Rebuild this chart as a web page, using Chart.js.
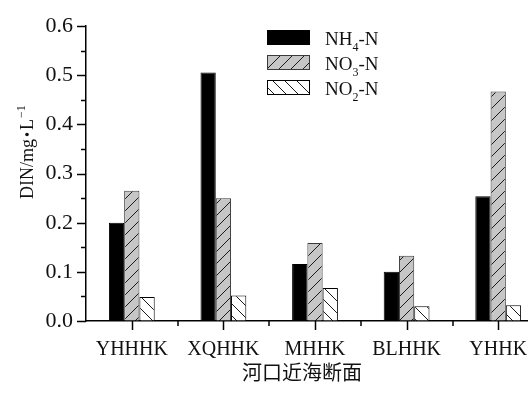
<!DOCTYPE html>
<html>
<head>
<meta charset="utf-8">
<script src="https://cdn.jsdelivr.net/npm/chart.js@4.4.1/dist/chart.umd.min.js"></script>
<style>
  html, body { margin: 0; padding: 0; background: #fff; overflow: hidden; }
  #wrap { width: 528px; height: 397px; overflow: hidden; }
  canvas { display: block; }
</style>
</head>
<body>
<div id="wrap"><canvas id="c" width="560" height="397" style="width:560px;height:397px"></canvas></div>
<script>
// Sections along the estuary / nearshore transects
const categories = ['YHHHK', 'XQHHK', 'MHHK', 'BLHHK', 'YHHK'];

// Dissolved inorganic nitrogen species, mg/L
const nh4 = [0.200, 0.506, 0.116, 0.100, 0.254];
const no3 = [0.265, 0.250, 0.159, 0.133, 0.467];
const no2 = [0.049, 0.052, 0.067, 0.030, 0.032];

// Legend names split into [main, subscript, tail]
const seriesNames = [['NH', '4', '-N'], ['NO', '3', '-N'], ['NO', '2', '-N']];

const yTicks = [0, 0.1, 0.2, 0.3, 0.4, 0.5, 0.6];
const xTitle = '河口近海断面';

const SERIF = '"Liberation Serif", "Times New Roman", serif';

function hatch(bg, dir) {
  const s = 12;
  const c = document.createElement('canvas');
  c.width = s; c.height = s;
  const g = c.getContext('2d');
  g.fillStyle = bg;
  g.fillRect(0, 0, s, s);
  g.strokeStyle = '#1a1a1a';
  g.lineWidth = 1;
  g.beginPath();
  if (dir === '/') {
    g.moveTo(-2, s + 2); g.lineTo(s + 2, -2);
    g.moveTo(-2, 2); g.lineTo(2, -2);
    g.moveTo(s - 2, s + 2); g.lineTo(s + 2, s - 2);
  } else {
    g.moveTo(-2, -2); g.lineTo(s + 2, s + 2);
    g.moveTo(s - 2, -2); g.lineTo(s + 2, 2);
    g.moveTo(-2, s - 2); g.lineTo(2, s + 2);
  }
  g.stroke();
  return document.getElementById('c').getContext('2d').createPattern(c, 'repeat');
}

const fills = ['#000000', hatch('#c6c6c6', '/'), hatch('#ffffff', '\\')];
const borders = ['#000000', '#3a3a3a', '#000000'];

const decor = {
  id: 'decor',
  afterDraw(chart) {
    const ctx = chart.ctx;
    const xs = chart.scales.x, ys = chart.scales.y;
    const area = chart.chartArea;
    ctx.save();
    ctx.strokeStyle = '#000';
    ctx.lineWidth = 1.5;

    // y ticks: major every 0.1, minor halfway
    for (let i = 0; i <= 12; i++) {
      const v = i * 0.05;
      const py = Math.round(ys.getPixelForValue(v)) + 0.5;
      const len = (i % 2 === 0) ? 9 : 5;
      ctx.beginPath();
      ctx.moveTo(area.left - len, py);
      ctx.lineTo(area.left, py);
      ctx.stroke();
    }

    // x ticks: major at category centres, minor at boundaries
    const half = (xs.getPixelForValue(1) - xs.getPixelForValue(0)) / 2;
    for (let i = 0; i < categories.length; i++) {
      const cx = Math.round(xs.getPixelForValue(i)) + 0.5;
      ctx.beginPath();
      ctx.moveTo(cx, area.bottom);
      ctx.lineTo(cx, area.bottom + 9);
      ctx.stroke();
      const bx = Math.round(cx + half);
      ctx.beginPath();
      ctx.moveTo(bx, area.bottom);
      ctx.lineTo(bx, area.bottom + 5);
      ctx.stroke();
    }

    // legend
    const ds = chart.data.datasets;
    ds.forEach((d, i) => {
      const base = 45 + i * 25;
      ctx.fillStyle = d.backgroundColor;
      ctx.fillRect(267, base - 15, 43, 15);
      ctx.lineWidth = 1;
      ctx.strokeStyle = d.borderColor;
      ctx.strokeRect(267.5, base - 14.5, 42, 14);
      const parts = seriesNames[i];
      ctx.fillStyle = '#111';
      ctx.textBaseline = 'alphabetic';
      ctx.textAlign = 'left';
      let x = 325;
      ctx.font = '19px ' + SERIF;
      ctx.fillText(parts[0], x, base);
      x += ctx.measureText(parts[0]).width;
      ctx.font = '12px ' + SERIF;
      ctx.fillText(parts[1], x, base + 6);
      x += ctx.measureText(parts[1]).width;
      ctx.font = '19px ' + SERIF;
      ctx.fillText(parts[2], x, base);
    });

    // y-axis title, rotated
    ctx.save();
    ctx.translate(33, 199);
    ctx.rotate(-Math.PI / 2);
    ctx.fillStyle = '#111';
    ctx.textAlign = 'left';
    ctx.textBaseline = 'alphabetic';
    let tx = 0;
    ctx.font = '18px ' + SERIF;
    const t1 = 'DIN/mg';
    ctx.fillText(t1, tx, 0);
    tx += ctx.measureText(t1).width + 2;
    ctx.beginPath();
    ctx.arc(tx + 2.5, -6, 1.8, 0, Math.PI * 2);
    ctx.fill();
    tx += 7;
    ctx.fillText('L', tx, 0);
    tx += ctx.measureText('L').width + 1;
    ctx.font = '12px ' + SERIF;
    ctx.fillText('\u22121', tx, -8);
    ctx.restore();

    // x-axis title
    ctx.font = '20px "Noto Sans CJK SC", sans-serif';
    ctx.fillStyle = '#111';
    ctx.textAlign = 'center';
    ctx.textBaseline = 'middle';
    ctx.fillText(xTitle, 302, 372);
    ctx.restore();
  }
};

new Chart(document.getElementById('c'), {
  type: 'bar',
  data: {
    labels: categories,
    datasets: [nh4, no3, no2].map((vals, i) => ({
      label: seriesNames[i].join(''),
      data: vals,
      backgroundColor: fills[i],
      borderColor: borders[i],
      borderWidth: 1,
      borderSkipped: 'bottom'
    }))
  },
  options: {
    responsive: false,
    animation: false,
    events: [],
    layout: { padding: { top: 15, right: 16, left: 0, bottom: 0 } },
    datasets: { bar: { categoryPercentage: 0.5, barPercentage: 1.0 } },
    plugins: { legend: { display: false }, tooltip: { enabled: false } },
    scales: {
      x: {
        grid: { drawOnChartArea: false, drawTicks: false },
        border: { display: true, color: '#000', width: 1.5 },
        ticks: { color: '#111', font: { family: SERIF, size: 20 }, padding: 17, maxRotation: 0, autoSkip: false },
        afterFit(s) { s.height = 76; }
      },
      y: {
        min: 0, max: 0.6,
        afterBuildTicks(s) { s.ticks = yTicks.map(v => ({ value: v })); },
        grid: { drawOnChartArea: false, drawTicks: false },
        border: { display: true, color: '#000', width: 1.5 },
        ticks: { color: '#111', font: { family: SERIF, size: 22 }, padding: 13, callback: v => v.toFixed(1) },
        afterFit(s) { s.width = 86; }
      }
    }
  },
  plugins: [decor]
});
</script>
</body>
</html>
